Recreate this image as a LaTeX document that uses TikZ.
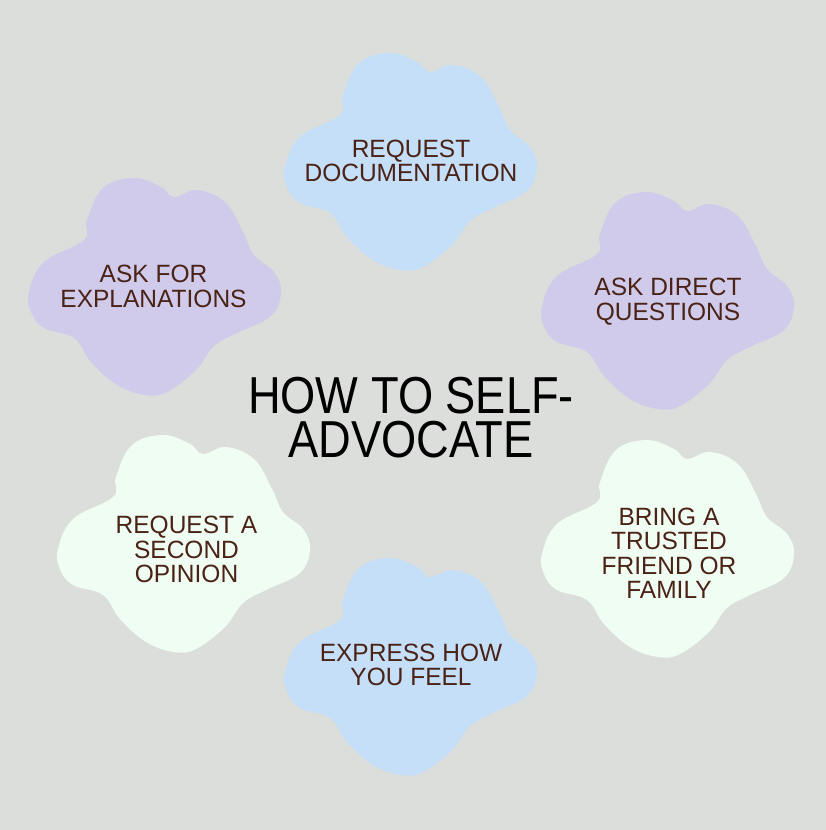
\documentclass[tikz,border=0pt]{standalone}
\usepackage{fontspec}
\setmainfont{Liberation Sans}
\newfontfamily\labelfont[FakeStretch=0.98]{Liberation Sans}
\newfontfamily\titlefont[FakeStretch=0.87]{Liberation Sans}
\definecolor{bg}{HTML}{DCDEDB}
\definecolor{blobblue}{HTML}{C5DFF8}
\definecolor{blobpurple}{HTML}{D0CBEA}
\definecolor{blobgreen}{HTML}{F0FDF3}
\definecolor{labelbrown}{HTML}{4A2216}
\newcommand{\blobshape}{plot[smooth cycle, tension=0.65] coordinates {
(0,114) (15,84) (55,62) (58,42) (74,10) (105,0) (132,9) (145,19) (168,12)
(196,24) (214,54) (225,77) (245,94) (252,114) (242,138) (208,155) (185,168)
(167,192) (138,214) (116,217) (88,207) (62,184) (45,160) (15,150) (2,134)}}
\begin{document}
\begin{tikzpicture}[x=1pt,y=-1pt,
  lbl/.style={inner sep=0pt, align=center, text=labelbrown,
    font=\labelfont\fontsize{25}{24.5}\selectfont},
  ttl/.style={inner sep=0pt, anchor=base, text=black,
    font=\titlefont\fontsize{52}{44}\selectfont}]
\fill[bg] (0,0) rectangle (826,830);
\useasboundingbox (0,0) rectangle (826,830);
% blobs
\fill[blobblue, shift={(285,53)}] \blobshape;
\fill[blobpurple, shift={(29,178)}] \blobshape;
\fill[blobpurple, shift={(542,192)}] \blobshape;
\fill[blobgreen, shift={(58,435)}] \blobshape;
\fill[blobgreen, shift={(542,440)}] \blobshape;
\fill[blobblue, shift={(285,558)}] \blobshape;
% labels
\node[lbl] (doc) at (411,161) {REQUEST\\DOCUMENTATION};
\node[lbl] (expl) at (153.5,286.5) {ASK FOR\\EXPLANATIONS};
\node[lbl] (quest) at (668,301.5) {ASK DIRECT\\QUESTIONS};
\node[lbl] (second) at (186.5,549.5) {REQUEST A\\SECOND\\OPINION};
\node[lbl] (friend) at (669,553.5) {BRING A\\TRUSTED\\FRIEND OR\\FAMILY};
\node[lbl] (feel) at (411,665) {EXPRESS HOW\\YOU FEEL};
\node[ttl] (title1) at (411,413) {HOW TO SELF-};
\node[ttl] (title2) at (411,457) {ADVOCATE};
\end{tikzpicture}
\end{document}
